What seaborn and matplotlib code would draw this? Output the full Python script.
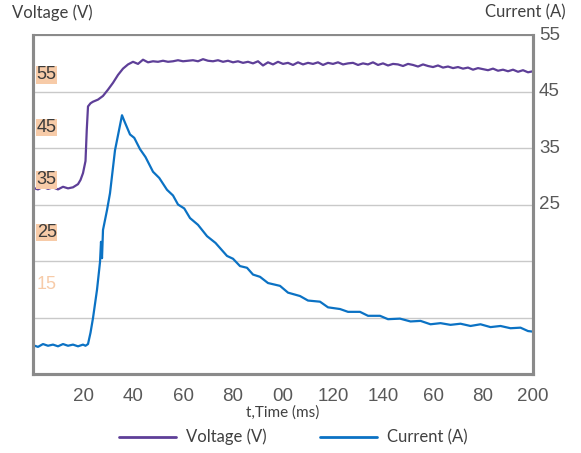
import numpy as np
import pandas as pd
import matplotlib
matplotlib.use("Agg")
import matplotlib.pyplot as plt
import seaborn as sns

# Voltage trace (ms, V)
v_time = [0, 2, 4, 6, 8, 10, 12, 14, 16, 18, 19, 20, 21, 21.5, 22, 23, 24, 26, 28, 30,
          32, 34, 36, 38, 40, 42, 44, 46, 48, 50, 52, 54, 56, 58, 60, 62, 64, 66, 68, 70,
          72, 74, 76, 78, 80, 82, 84, 86, 88, 90, 92, 94, 96, 98, 100, 102, 104, 106, 108, 110,
          112, 114, 116, 118, 120, 122, 124, 126, 128, 130, 132, 134, 136, 138, 140, 142, 144, 146, 148, 150,
          152, 154, 156, 158, 160, 162, 164, 166, 168, 170, 172, 174, 176, 178, 180, 182, 184, 186, 188, 190,
          192, 194, 196, 198, 200]
voltage = [33.5, 33.2, 33.7, 33.3, 33.6, 33.2, 33.7, 33.4, 33.6, 34.2, 35.0, 36.3, 38.6, 44.5, 49.0, 49.6, 49.9, 50.3, 51.0, 52.2,
           53.5, 55.0, 56.2, 57.0, 57.5, 57.1, 57.9, 57.4, 57.6, 57.5, 57.7, 57.5, 57.6, 57.8, 57.6, 57.7, 57.8, 57.6, 58.0, 57.7,
           57.6, 57.8, 57.5, 57.7, 57.4, 57.6, 57.3, 57.5, 57.2, 57.6, 56.8, 57.4, 57.0, 57.5, 57.1, 57.3, 56.9, 57.4, 57.0, 57.3,
           57.1, 57.4, 56.9, 57.3, 57.1, 57.4, 57.0, 57.2, 57.3, 56.9, 57.2, 57.0, 57.4, 56.9, 57.2, 56.8, 57.1, 57.0, 56.7, 57.1,
           56.9, 56.6, 57.0, 56.7, 56.5, 56.8, 56.4, 56.6, 56.3, 56.5, 56.2, 56.4, 56.0, 56.3, 56.1, 55.9, 56.2, 55.8, 56.0, 55.7,
           56.0, 55.6, 55.9, 55.5, 55.7]

# Current trace (ms, A)
c_time = [0, 2, 4, 6, 8, 10, 12, 14, 16, 18, 20, 21, 22, 23, 24, 25.6, 26.8, 27.2, 27.6, 28,
          29.6, 30.8, 32.8, 35.6, 36.5, 38.8, 40.5, 42.8, 45, 48, 50.5, 53.6, 56, 58, 60.5, 62.8, 66, 69.6, 73, 77.6,
          80, 82.8, 85.6, 88, 90.8, 94, 98.8, 102, 106.8, 110, 114.8, 118, 122.8, 126, 130.8, 134, 138.8, 142, 146.8, 151,
          155, 159, 163, 167, 171, 175, 179, 183, 187, 191, 195, 198, 200]
current = [0.1, -0.2, 0.3, 0.0, 0.2, -0.1, 0.3, 0.0, 0.2, -0.1, 0.2, 0.0, 0.3, 2.3, 4.9, 9.9, 14.8, 18.4, 15.5, 20.5,
           24.0, 27.0, 34.6, 40.8, 39.8, 37.4, 36.8, 34.8, 33.4, 30.8, 29.7, 27.6, 26.6, 25.0, 24.3, 22.6, 21.4, 19.4, 18.2, 15.9,
           15.4, 14.1, 13.8, 12.6, 12.2, 11.1, 10.6, 9.4, 8.8, 8.0, 7.8, 6.8, 6.5, 6.0, 6.0, 5.3, 5.3, 4.7, 4.8, 4.3,
           4.4, 3.8, 4.0, 3.7, 3.9, 3.5, 3.8, 3.3, 3.5, 3.1, 3.2, 2.6, 2.5]

x_ticks = [20, 40, 60, 80, 100, 120, 140, 160, 180, 200]
x_ticklabels = ["20", "40", "60", "80", "00", "120", "140", "60", "80", "200"]
right_ticks = [25, 35, 45, 55]
left_labels = [55, 45, 35, 25]
faded_label = 15

PURPLE = "#5e3f98"
BLUE = "#0b72c4"
GRAY = "#8a8a8a"
TXT = "#595959"
SANS = ["Lato", "DejaVu Sans"]

sns.set_style("white")
plt.rcParams["font.family"] = ["Liberation Sans", "DejaVu Sans"]

vdf = pd.DataFrame({"t": v_time, "V": voltage})
cdf = pd.DataFrame({"t": c_time, "A": current})

fig = plt.figure(figsize=(5.81, 4.53), dpi=100)
ax_c = fig.add_axes([0.0568, 0.1744, 0.8606, 0.7483])
ax_v = ax_c.twinx()

sns.lineplot(data=cdf, x="t", y="A", ax=ax_c, color=BLUE, lw=1.6, estimator=None)
sns.lineplot(data=vdf, x="t", y="V", ax=ax_v, color=PURPLE, lw=1.6, estimator=None)

ax_c.set_xlim(0, 200)
ax_c.set_ylim(-5, 55)
ax_v.set_ylim(-1.95, 62.6)

# gridlines follow the current scale
ax_c.set_yticks([5, 15, 25, 35, 45, 55])
ax_c.yaxis.grid(True, color="#c9c9c9", lw=1.0)
ax_c.tick_params(axis="y", left=False, labelleft=False)
ax_c.set_ylabel("")
ax_v.set_ylabel("")
ax_v.set_yticks([])

# current tick labels on the right
for val in right_ticks:
    ax_c.text(1.012, (val + 5) / 60, str(val), transform=ax_c.transAxes,
              ha="left", va="center", fontsize=13.5, color=TXT)

ax_c.set_xticks(x_ticks)
ax_c.set_xticklabels(x_ticklabels, fontsize=13.5, color=TXT)
ax_c.tick_params(axis="x", direction="out", length=5, width=1.5, color=GRAY, pad=5)
ax_c.set_xlabel("t,Time (ms)", fontsize=11, color="#404040", family=SANS, labelpad=0)

# voltage labels inside the plot
for val in left_labels:
    ax_v.text(1.5, val, str(val), ha="left", va="center", fontsize=13, color="#3a3a3a",
              bbox=dict(boxstyle="square,pad=0.02", fc="#f7cba8", ec="none"))
ax_v.text(1.5, faded_label, str(faded_label), ha="left", va="center", fontsize=13, color="#f7cba8")

for a in (ax_c, ax_v):
    for side in ["left", "bottom", "right"]:
        a.spines[side].set_color(GRAY)
        a.spines[side].set_linewidth(2.2)
    a.spines["top"].set_color(GRAY)
    a.spines["top"].set_linewidth(1.3)

fig.text(0.021, 0.972, "Voltage (V)", ha="left", va="center", fontsize=12,
         color="#404040", family=SANS)
fig.text(0.973, 0.972, "Current (A)", ha="right", va="center", fontsize=12,
         color="#404040", family=SANS)

handles = [plt.Line2D([], [], color=PURPLE, lw=2), plt.Line2D([], [], color=BLUE, lw=2)]
leg = fig.legend(handles, ["Voltage (V)", "Current (A)"], loc="center", bbox_to_anchor=(0.505, 0.035),
                 ncol=2, frameon=False, handlelength=3.4, handletextpad=0.6, columnspacing=3.2,
                 prop={"family": SANS, "size": 12})
for t in leg.get_texts():
    t.set_color("#404040")

fig.savefig("out.png", dpi=100)
